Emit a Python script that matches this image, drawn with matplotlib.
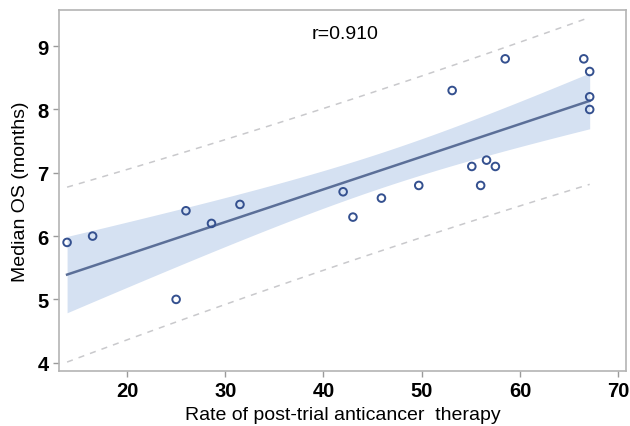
import numpy as np
import matplotlib.pyplot as plt

plt.rcParams['font.family'] = ['Liberation Sans', 'DejaVu Sans']

# post-trial therapy rate (%) and median OS (months)
rate = [13.9, 16.5, 25.0, 26.0, 28.6, 31.5, 42.0, 43.0, 45.9, 49.7,
        53.1, 55.1, 56.0, 56.6, 57.5, 58.5, 66.5, 67.1, 67.1, 67.1]
os_months = [5.9, 6.0, 5.0, 6.4, 6.2, 6.5, 6.7, 6.3, 6.6, 6.8,
             8.3, 7.1, 6.8, 7.2, 7.1, 8.8, 8.8, 8.6, 8.2, 8.0]
r_text = "r=0.910"

x = np.array(rate)
y = np.array(os_months)
n = len(x)

# ordinary least squares fit with confidence / prediction bands
slope, intercept = np.polyfit(x, y, 1)
resid = y - (intercept + slope * x)
s = np.sqrt(np.sum(resid ** 2) / (n - 2))
t = 2.101  # t(0.975, 18)
xs = np.linspace(x.min(), x.max(), 100)
yfit = intercept + slope * xs
lev = 1 / n + (xs - x.mean()) ** 2 / np.sum((x - x.mean()) ** 2)
ci = t * s * np.sqrt(lev)
pi = t * s * np.sqrt(1 + lev)

fig = plt.figure(figsize=(6.3, 4.27), dpi=100)
ax = fig.add_axes([0.094, 0.129, 0.8997, 0.845])

ax.fill_between(xs, yfit - ci, yfit + ci, color='#d5e1f2', lw=0)
ax.plot(xs, yfit, color='#5b6f98', lw=1.8)
ax.plot(xs, yfit + pi, color='#c9c9cc', lw=1.1, ls=(0, (4, 4)))
ax.plot(xs, yfit - pi, color='#c9c9cc', lw=1.1, ls=(0, (4, 4)))
ax.scatter(x, y, s=30, facecolors='none', edgecolors='#34508f', linewidths=1.4, zorder=3)

ax.text(0.505, 0.935, r_text, transform=ax.transAxes, ha='center', va='center', fontsize=14)

ax.set_xlim(13.1, 70.8)
ax.set_ylim(3.87, 9.57)
ax.set_xticks([20, 30, 40, 50, 60, 70])
ax.set_yticks([4, 5, 6, 7, 8, 9])
ax.tick_params(colors='#9a9a9a', length=4, width=1, labelcolor='black', labelsize=14.5)
for lab in ax.get_xticklabels() + ax.get_yticklabels():
    lab.set_fontweight('bold')
for sp in ax.spines.values():
    sp.set_color('#b4b4b4')
    sp.set_linewidth(1.2)

ax.set_xlabel("Rate of post-trial anticancer  therapy", fontsize=14, labelpad=4)
ax.set_ylabel("Median OS (months)", fontsize=14, labelpad=6)

fig.savefig('out.png', dpi=100)
